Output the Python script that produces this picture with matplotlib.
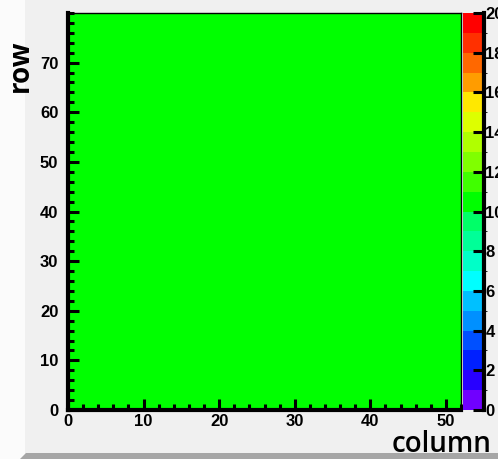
import matplotlib
matplotlib.use("Agg")
import matplotlib.pyplot as plt
import numpy as np
from matplotlib.colors import BoundaryNorm, ListedColormap
from matplotlib.font_manager import FontProperties
from matplotlib.patches import Polygon

# occupancy map: every (column, row) cell holds the same count
n_columns = 52
n_rows = 80
cell_count = 10.5
z_min, z_max = 0, 20

# one palette colour per unit of z
palette = [
    "#7000ff", "#2800ff", "#0020ff", "#0050ff", "#0090ff",
    "#00c0ff", "#00ffff", "#00ffc8", "#00ff98", "#00ff68",
    "#00ff00", "#40ff00", "#80ff00", "#b0ff00", "#ddff00",
    "#ffe800", "#ff9c00", "#ff6800", "#ff3000", "#ff0000",
]

counts = np.full((n_rows, n_columns), cell_count)

W, H = 498, 459
fig = plt.figure(figsize=(W / 100, H / 100), dpi=100, facecolor="#f0f0f0")

# canvas bevel: light strip on the left, dark strip along the bottom
fig.patches.append(Polygon([(0, 0), (25 / W, 0), (25 / W, 1), (0, 1)], closed=True,
                           transform=fig.transFigure, facecolor="#fbfbfb", edgecolor="none"))
fig.patches.append(Polygon([(20 / W, 0), (1, 0), (1, 6 / H), (26 / W, 6 / H)], closed=True,
                           transform=fig.transFigure, facecolor="#a6a6a6", edgecolor="none"))

ax = fig.add_axes([68 / W, 1 - 410 / H, (461 - 68) / W, (410 - 13) / H])
cax = fig.add_axes([463 / W, 1 - 410 / H, (484 - 463) / W, (410 - 13) / H])

cmap = ListedColormap(palette)
norm = BoundaryNorm(np.arange(z_min, z_max + 1), cmap.N)
mesh = ax.pcolormesh(np.arange(n_columns + 1), np.arange(n_rows + 1), counts,
                     cmap=cmap, norm=norm)
ax.set_xlim(0, n_columns)
ax.set_ylim(0, n_rows)

label_font = FontProperties(family="Liberation Sans", weight="bold", size=12)
ax.set_xticks(np.arange(0, 51, 10))
ax.set_xticks(np.arange(0, 53, 2), minor=True)
ax.set_yticks(np.arange(0, 71, 10))
ax.set_yticks(np.arange(0, 81, 2), minor=True)
ax.tick_params(which="both", direction="in", color="black", width=2.2)
ax.tick_params(which="major", length=8)
ax.tick_params(axis="x", which="major", pad=3)
ax.tick_params(axis="y", which="major", pad=7)
ax.tick_params(which="minor", length=4)
for lab in ax.get_xticklabels() + ax.get_yticklabels():
    lab.set_fontproperties(label_font)
for side in ("left", "bottom"):
    ax.spines[side].set_linewidth(3)
for side in ("top", "right"):
    ax.spines[side].set_linewidth(1)

fig.text(491 / W, 1 - 444 / H, "column", ha="right", va="center",
         fontsize=20, family="Open Sans", weight="semibold")
fig.text(20 / W, 1 - 66 / H, "row", ha="center", va="center", rotation=90,
         fontsize=20, family="Open Sans", weight="bold")

cb = fig.colorbar(mesh, cax=cax, ticks=np.arange(z_min, z_max + 1, 2))
cb.outline.set_visible(False)
cax.spines["right"].set_visible(True)
cax.spines["right"].set_linewidth(3)
cax.tick_params(direction="in", length=8, width=2.2, color="black", pad=1)
for lab in cax.get_yticklabels():
    lab.set_fontproperties(label_font)

fig.savefig("out.png", dpi=100, facecolor=fig.get_facecolor())
